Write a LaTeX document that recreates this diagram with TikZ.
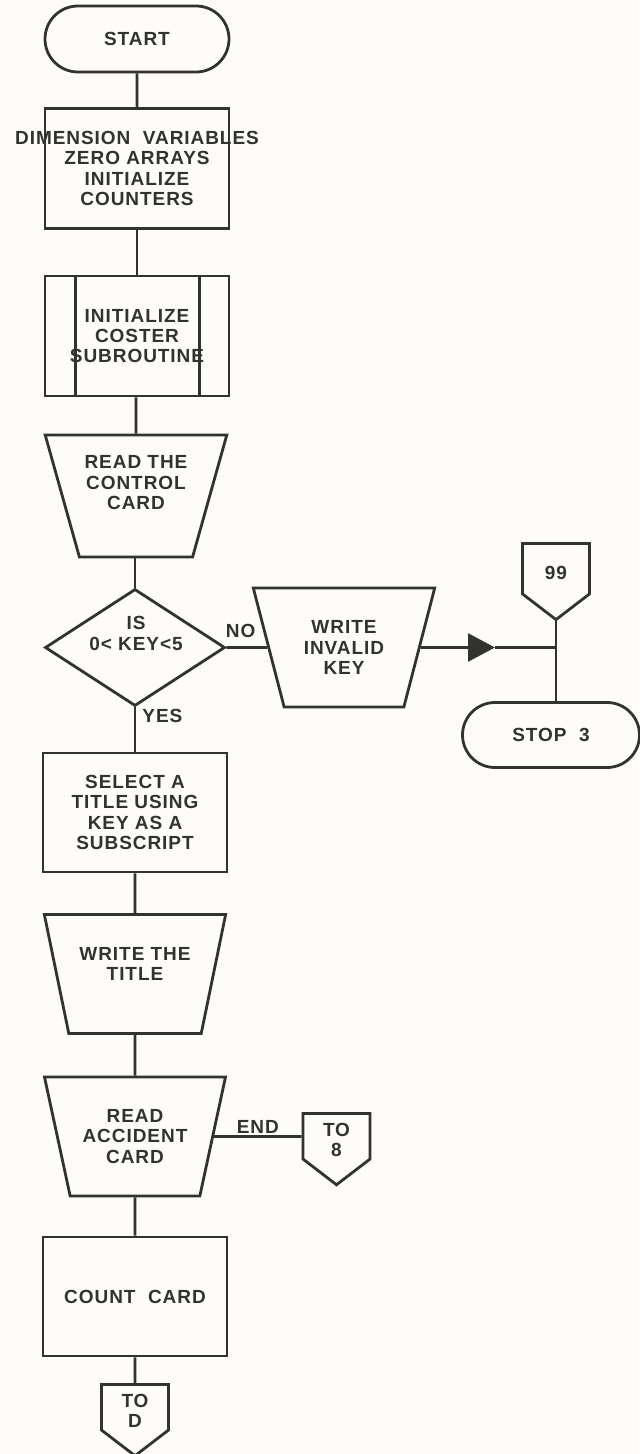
\documentclass[tikz,border=0pt]{standalone}
\usepackage{fontspec}
\setmainfont[LetterSpace=5]{Liberation Sans}
\usetikzlibrary{shapes.geometric,shapes.misc,shapes.symbols,arrows.meta}

\definecolor{tinta}{RGB}{50,50,48}
\definecolor{papel}{RGB}{253,252,250}

\tikzset{
    base/.style={draw=tinta, line width=1.4pt, text=tinta, inner sep=0pt, align=center,
        font=\fontsize{9.5}{10.2}\selectfont\bfseries},
    terminal/.style={base, rounded rectangle, minimum width=92pt, minimum height=33pt},
    proceso/.style={base, rectangle, minimum width=92pt, minimum height=60pt},
    salida/.style={base, trapezium, trapezium stretches, shape border rotate=180,
        trapezium angle=69, minimum width=91pt, minimum height=59.5pt},
    decision/.style={base, diamond, minimum width=90pt, minimum height=58.5pt},
    conector/.style={base, signal, signal to=south, signal pointer angle=105,
        minimum width=33.5pt, minimum height=28pt, anchor=north},
    rotulo/.style={text=tinta, inner sep=2pt, font=\fontsize{9.5}{10.2}\selectfont\bfseries},
    linea/.style={draw=tinta, line width=1.4pt},
    subir/.style={text depth=#1},
    bajar/.style={text height=#1},
}

\begin{document}
\begin{tikzpicture}[x=0.5pt, y=-0.5pt]
        % Fondo de la hoja.
        \fill[papel] (0,0) rectangle (639,1454);
        \useasboundingbox (0,0) rectangle (639,1454);

        % Inicio y preparacion de variables.
        \node[terminal] (inicio) at (137,39) {START};
        \node[proceso] (dimen) at (137,168.5)
            {\makebox[0pt]{DIMENSION\ \ VARIABLES}\\ZERO ARRAYS\\INITIALIZE\\COUNTERS};

        % Subrutina predefinida con sus dos lineas interiores.
        \node[proceso] (subr) at (137,336) {INITIALIZE\\COSTER\\SUBROUTINE};
        \draw[linea] ([xshift=16pt]subr.north west) -- ([xshift=16pt]subr.south west);
        \draw[linea] ([xshift=-15.5pt]subr.north east) -- ([xshift=-15.5pt]subr.south east);

        % Lectura de la tarjeta de control.
        \node[salida, subir=13.5pt, minimum height=61pt] (leer1) at (136,496)
            {READ THE\\CONTROL\\CARD};

        % Decision sobre la clave.
        \node[decision] (dec) at (135,647.5) {};
        \node[rotulo, inner sep=0pt, align=center] (dectxt) at (136,633.5) {IS\\0< KEY<5};

        % Rama NO: clave invalida y fin.
        \node[salida] (escr) at (344,647.5) {WRITE\\INVALID\\KEY};
        \node[conector, bajar=11pt, minimum height=29.5pt] (c99) at (556,542) {99};
        \node[terminal, minimum width=88.5pt, minimum height=32.5pt] (stop) at (551,735) {STOP\ \ 3};
        \coordinate (punta) at (495,647.5);
        \coordinate (union) at (556,647.5);

        % Rama YES: seleccion y escritura del titulo.
        \node[proceso, minimum height=59.5pt] (selec) at (135,812.5)
            {SELECT A\\TITLE USING\\KEY AS A\\SUBSCRIPT};
        \node[salida, subir=10pt] (titulo) at (135,974) {WRITE THE\\TITLE};

        % Lectura de accidentes y conteo.
        \node[salida] (leer2) at (135,1136.5) {READ\\ACCIDENT\\CARD};
        \node[conector, bajar=20.5pt] (c8) at (336.5,1112) {TO\\8};
        \node[proceso, minimum height=59.5pt] (cuenta) at (135,1296.5) {COUNT\ \ CARD};
        \node[conector, bajar=20.5pt] (cD) at (135,1383) {TO\\D};

        % Lineas de flujo.
        \draw[linea] (inicio) -- (dimen);
        \draw[linea] (dimen) -- (subr);
        \draw[linea] (subr.south -| leer1) -- (leer1);
        \draw[linea] (leer1.south -| dec) -- (dec);
        \draw[linea] (dec) -- (escr) node[rotulo, pos=0.35, above, yshift=2pt] {NO};
        \draw[linea, -{Triangle[length=13.5pt, width=14pt]}] (escr) -- (punta);
        \draw[linea] (punta) -- (union);
        \draw[linea] (c99.south) -- (c99.south |- stop.north);
        \draw[linea] (dec) -- (selec) node[rotulo, pos=0.2, right, xshift=1pt] {YES};
        \draw[linea] (selec) -- (titulo);
        \draw[linea] (titulo) -- (leer2);
        \draw[linea] (leer2) -- (leer2 -| c8.west) node[rotulo, midway, above, inner sep=1pt] {END};
        \draw[linea] (leer2) -- (cuenta);
        \draw[linea] (cuenta) -- (cD);
\end{tikzpicture}
\end{document}
